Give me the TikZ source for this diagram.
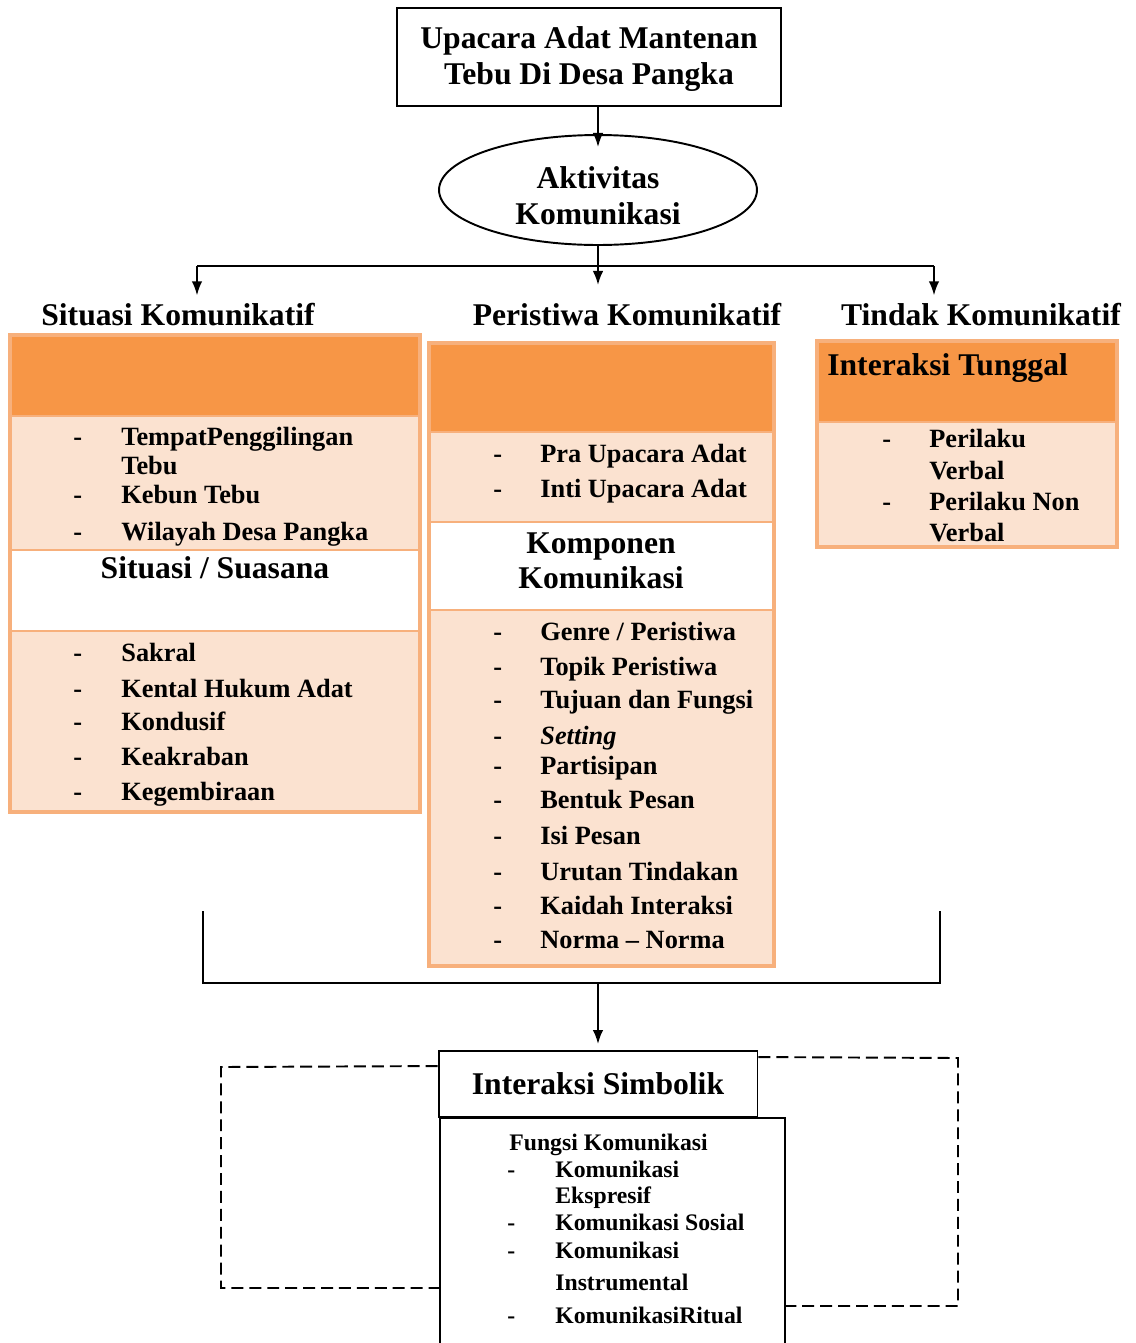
\documentclass[tikz,border=0pt]{standalone}
\usepackage{fontspec}
\setmainfont{Liberation Serif}
\usetikzlibrary{shapes.geometric,calc}
\usetikzlibrary{arrows.meta}
\tikzset{>={Latex[length=8pt,width=6pt]}}
\definecolor{hdrorange}{HTML}{F79646}
\definecolor{liteorange}{HTML}{FBE2D0}
\definecolor{cellline}{HTML}{F7B07C}
\tikzset{
  ln/.style={black,line width=1.1pt},
  dashln/.style={black,line width=1.1pt,dash pattern=on 6.8pt off 3.4pt},
  bigtxt/.style={font=\bfseries\fontsize{18}{20.3}\selectfont,inner sep=0pt},
  itemtxt/.style={font=\bfseries\fontsize{15}{17}\selectfont,inner sep=0pt,anchor=base west},
  smalltxt/.style={font=\bfseries\fontsize{13.5}{15}\selectfont,inner sep=0pt,anchor=base west},
  hdrcell/.style={fill=hdrorange,draw=cellline,line width=1pt},
  litecell/.style={fill=liteorange,draw=cellline,line width=1pt},
  whitecell/.style={fill=white,draw=cellline,line width=1pt},
  cellframe/.style={draw=cellline,line width=1.8pt},
}

\begin{document}
\begin{tikzpicture}[x=0.02cm,y=-0.02cm]
            \useasboundingbox (0,0) rectangle (1136,1343);
            \clip (0,0) rectangle (1136,1343);

            \node[draw,ln,bigtxt,align=center,minimum width=7.68cm,minimum height=1.96cm] (upacara) at(589,57) {\rule{0pt}{15pt}Upacara Adat Mantenan\\Tebu Di Desa Pangka};
            \node[ellipse,draw,ln,bigtxt,align=center,minimum width=6.36cm,minimum height=2.2cm] (aktivitas) at(598,190) {\rule{0pt}{19pt}Aktivitas\\Komunikasi};
            \draw[ln,->,shorten >=-0.26cm] (upacara.south -| aktivitas.north) -- (aktivitas.north);

            \node[bigtxt,anchor=base] (situasikom) at(178,325) {Situasi Komunikatif};
            \node[bigtxt,anchor=base] (peristiwakom) at(627,325) {Peristiwa Komunikatif};
            \node[bigtxt,anchor=base] (tindakkom) at(981,325) {Tindak Komunikatif};

            \coordinate (barL) at(197,266);
            \coordinate (barR) at(934,266);
            \coordinate (midtip) at(598,285);
            \draw[ln] (barL) -- (barR);
            \draw[ln,->] (aktivitas.south) -- (midtip);
            \draw[ln,->,shorten >=0.14cm] (barL) -- (barL |- situasikom.north);
            \draw[ln,->,shorten >=0.14cm] (barR) -- (barR |- tindakkom.north);

            \filldraw[hdrcell] (11,336) rectangle (419,416);
            \filldraw[litecell] (11,416) rectangle (419,550);
            \filldraw[whitecell] (11,550) rectangle (419,631);
            \filldraw[litecell] (11,631) rectangle (419,811);
            \draw[cellframe] (10,335) rectangle (420,812);

            \filldraw[hdrcell] (430,344) rectangle (773,432);
            \filldraw[litecell] (430,432) rectangle (773,522);
            \filldraw[whitecell] (430,522) rectangle (773,610);
            \filldraw[litecell] (430,610) rectangle (773,965);
            \draw[cellframe] (429,343) rectangle (774,966);

            \filldraw[hdrcell] (818,342) rectangle (1116,422);
            \filldraw[litecell] (818,422) rectangle (1116,546);
            \draw[cellframe] (817,341) rectangle (1117,547);

            \node[itemtxt] (sdash1) at(73,445) {-};
            \node[itemtxt] (sdash2) at(73,503) {-};
            \node[itemtxt] (sdash3) at(73,540) {-};
            \node[itemtxt] (tempat1) at(121,445) {TempatPenggilingan};
            \node[itemtxt] (tempat2) at(121,474) {Tebu};
            \node[itemtxt] (kebun) at(121,503) {Kebun Tebu};
            \node[itemtxt] (wilayah) at(121,540) {Wilayah Desa Pangka};
            \node[bigtxt,anchor=base] (suasana) at(215,578) {Situasi / Suasana};
            \node[itemtxt] (sdash4) at(73,661) {-};
            \node[itemtxt] (sdash5) at(73,697) {-};
            \node[itemtxt] (sdash6) at(73,730) {-};
            \node[itemtxt] (sdash7) at(73,765) {-};
            \node[itemtxt] (sdash8) at(73,800) {-};
            \node[itemtxt] (sakral) at(121,661) {Sakral};
            \node[itemtxt] (kental) at(121,697) {Kental Hukum Adat};
            \node[itemtxt] (kondusif) at(121,730) {Kondusif};
            \node[itemtxt] (keakraban) at(121,765) {Keakraban};
            \node[itemtxt] (kegembiraan) at(121,800) {Kegembiraan};

            \node[itemtxt] (pdash1) at(493,462) {-};
            \node[itemtxt] (pdash2) at(493,497) {-};
            \node[itemtxt] (pra) at(540,462) {Pra Upacara Adat};
            \node[itemtxt] (inti) at(540,497) {Inti Upacara Adat};
            \node[bigtxt,anchor=base] (komponen1) at(601,553) {Komponen};
            \node[bigtxt,anchor=base] (komponen2) at(601,588) {Komunikasi};
            \node[itemtxt] (pdash3) at(493,640) {-};
            \node[itemtxt] (pdash4) at(493,675) {-};
            \node[itemtxt] (pdash5) at(493,708) {-};
            \node[itemtxt] (pdash6) at(493,744) {-};
            \node[itemtxt] (pdash7) at(493,774) {-};
            \node[itemtxt] (pdash8) at(493,808) {-};
            \node[itemtxt] (pdash9) at(493,844) {-};
            \node[itemtxt] (pdash10) at(493,880) {-};
            \node[itemtxt] (pdash11) at(493,914) {-};
            \node[itemtxt] (pdash12) at(493,948) {-};
            \node[itemtxt] (genre) at(540,640) {Genre / Peristiwa};
            \node[itemtxt] (topik) at(540,675) {Topik Peristiwa};
            \node[itemtxt] (tujuan) at(540,708) {Tujuan dan Fungsi};
            \node[itemtxt,font=\bfseries\itshape\fontsize{15}{17}\selectfont] (setting) at(540,744) {Setting};
            \node[itemtxt] (partisipan) at(540,774) {Partisipan};
            \node[itemtxt] (bentuk) at(540,808) {Bentuk Pesan};
            \node[itemtxt] (isi) at(540,844) {Isi Pesan};
            \node[itemtxt] (urutan) at(540,880) {Urutan Tindakan};
            \node[itemtxt] (kaidah) at(540,914) {Kaidah Interaksi};
            \node[itemtxt] (norma) at(540,948) {Norma – Norma};

            \node[bigtxt,anchor=base west] (tunggal) at(827,375) {Interaksi Tunggal};
            \node[itemtxt] (tdash1) at(882,447) {-};
            \node[itemtxt] (tdash2) at(882,510) {-};
            \node[itemtxt] (verbal1) at(929,447) {Perilaku};
            \node[itemtxt] (verbal2) at(929,479) {Verbal};
            \node[itemtxt] (nonverbal1) at(929,510) {Perilaku Non};
            \node[itemtxt] (nonverbal2) at(929,541) {Verbal};

            \coordinate (brackL) at(203,911);
            \coordinate (brackR) at(940,911);
            \coordinate (brackM) at(598,983);
            \draw[ln] (brackL) |- (brackM) -| (brackR);

            \node[draw,ln,anchor=north west,minimum width=6.9cm,minimum height=5.2cm] (fungsibox) at(439,1117) {};
            \node[draw,ln,bigtxt,minimum width=6.38cm,minimum height=1.32cm] (simbolik) at(598,1084) {Interaksi Simbolik};
            \draw[ln,->,shorten >=0.12cm] (brackM) -- (simbolik.north);

            \node[smalltxt] (fungsihead) at(509,1150) {Fungsi Komunikasi};
            \node[smalltxt] (fdash1) at(507,1177) {-};
            \node[smalltxt] (fdash2) at(507,1230) {-};
            \node[smalltxt] (fdash3) at(507,1258) {-};
            \node[smalltxt] (fdash4) at(507,1323) {-};
            \node[smalltxt] (ekspresif1) at(555,1177) {Komunikasi};
            \node[smalltxt] (ekspresif2) at(555,1203) {Ekspresif};
            \node[smalltxt] (sosial) at(555,1230) {Komunikasi Sosial};
            \node[smalltxt] (instrumen1) at(555,1258) {Komunikasi};
            \node[smalltxt] (instrumen2) at(555,1290) {Instrumental};
            \node[smalltxt] (ritual) at(555,1323) {KomunikasiRitual};

            \coordinate (dashLb) at(221,1288);
            \coordinate (dashRb) at(958,1306);
            \draw[dashln] ($(simbolik.north west)+(0,16)$) -- (221,1067) -- (dashLb) -- (fungsibox.west |- dashLb);
            \draw[dashln] ($(simbolik.north east)+(0,7)$) -- (958,1058) -- (dashRb) -- (fungsibox.east |- dashRb);
        \end{tikzpicture}
\end{document}
